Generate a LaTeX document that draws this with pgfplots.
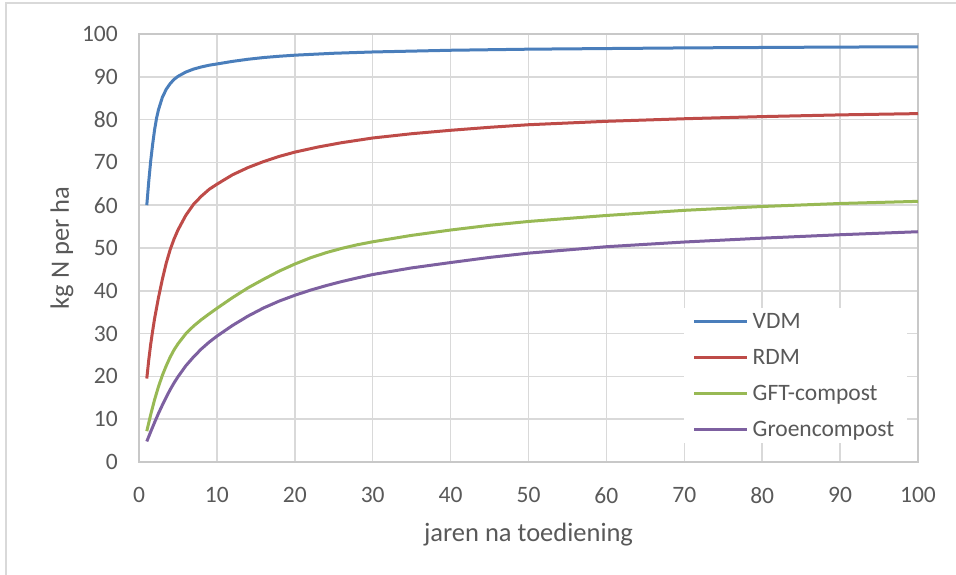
\documentclass[border=0pt]{standalone}
\usepackage{pgfplots}
\pgfplotsset{compat=1.18}
\usepackage{fontspec}
\setmainfont{Carlito}
\definecolor{txt}{HTML}{595959}
\definecolor{gridc}{HTML}{D9D9D9}
\definecolor{axc}{HTML}{C8C8C8}
\definecolor{cvdm}{HTML}{4A7EBB}
\definecolor{crdm}{HTML}{BE4B48}
\definecolor{cgft}{HTML}{98B954}
\definecolor{cgroen}{HTML}{7D60A0}
\begin{document}
\begin{tikzpicture}
\path[use as bounding box] (-139bp,-113bp) rectangle (817bp,462bp);
\draw[color=gridc, line width=1.2bp] (-133bp,-120bp) -- (-133bp,459bp) -- (830bp,459bp);
\begin{axis}[
  at={(0,0)}, anchor=south west,
  scale only axis, width=779bp, height=428bp,
  xmin=0, xmax=100, ymin=0, ymax=100,
  xtick={0,10,...,100}, ytick={0,10,...,100},
  grid=major,
  major grid style={color=gridc, line width=1.5bp},
  axis line style={color=axc, line width=1.5bp},
  major tick length=0pt,
  tick label style={font=\fontsize{23.5bp}{26bp}\selectfont, text=txt},
  /pgf/number format/assume math mode=true,
  yticklabel style={anchor=east, inner sep=0pt, xshift=-21bp},
  xticklabel style={anchor=north, inner sep=0pt, yshift=-25bp},
  xlabel={jaren na toediening},
  ylabel={kg N per ha},
  label style={font=\fontsize{26.5bp}{30bp}\selectfont, text=txt},
  xlabel style={at={(axis description cs:0.5,-0.1706)}, anchor=center},
  ylabel style={at={(axis description cs:-0.0988,0.5)}, anchor=center},
  legend style={at={(axis cs:69.9,36.0)}, anchor=north west, draw=none, fill=white,
    font=\fontsize{23.5bp}{26bp}\selectfont, text=txt,
    inner xsep=9bp, inner ysep=3bp, row sep=15.3bp,
    nodes={inner xsep=4bp}},
  legend cell align=left,
  legend image code/.code={\draw[#1, line width=3bp] (0bp,0bp) -- (53bp,0bp);},
  every axis plot/.append style={line width=3bp, line join=round},
]
\addplot[cvdm] coordinates {
(1,60) (1.25,65.5) (1.5,70.3) (1.75,74.2) (2,77.6) (2.25,80.3) (2.5,82.3) (3,85.2) (3.5,87.1) (4,88.4) (4.5,89.4) (5,90.1) (6,91.1) (7,91.8) (8,92.3) (9,92.7) (10,93.0) (12,93.6) (14,94.1) (16,94.5) (18,94.8) (20,95.05) (25,95.5) (30,95.8) (35,96.0) (40,96.2) (50,96.45) (60,96.6) (70,96.75) (80,96.85) (90,96.95) (100,97.0)};
\addlegendentry{VDM}
\addplot[crdm] coordinates {
(1,19.5) (1.25,23.8) (1.5,27.5) (1.75,30.6) (2,33.5) (2.5,38.4) (3,42.7) (3.5,46.5) (4,49.6) (4.5,52.1) (5,54.2) (6,57.6) (7,60.2) (8,62.1) (9,63.7) (10,64.9) (12,67.1) (14,68.8) (16,70.2) (18,71.4) (20,72.4) (23,73.6) (26,74.6) (30,75.7) (35,76.7) (40,77.5) (45,78.2) (50,78.8) (60,79.6) (70,80.2) (80,80.7) (90,81.1) (100,81.4)};
\addlegendentry{RDM}
\addplot[cgft] coordinates {
(1,7.2) (1.5,11.05) (2,14.55) (2.5,17.6) (3,20.25) (3.5,22.5) (4,24.5) (4.5,26.2) (5,27.6) (6,29.95) (7,31.75) (8,33.25) (9,34.6) (10,35.9) (12,38.4) (14,40.7) (16,42.7) (18,44.6) (20,46.25) (22,47.7) (24,48.9) (26,49.9) (28,50.75) (30,51.45) (35,52.95) (40,54.2) (45,55.3) (50,56.2) (60,57.6) (70,58.8) (80,59.7) (90,60.4) (100,60.9)};
\addlegendentry{GFT-compost}
\addplot[cgroen] coordinates {
(1,4.8) (1.5,7.06) (2,9.25) (2.5,11.35) (3,13.3) (3.5,15.16) (4,16.9) (4.5,18.48) (5,19.9) (6,22.45) (7,24.55) (8,26.4) (9,28.0) (10,29.4) (12,31.9) (14,34.1) (16,36.0) (18,37.6) (20,38.95) (22,40.15) (24,41.2) (26,42.15) (28,43.0) (30,43.8) (35,45.35) (40,46.6) (45,47.8) (50,48.8) (60,50.3) (70,51.4) (80,52.3) (90,53.1) (100,53.8)};
\addlegendentry{Groencompost}
\end{axis}
\end{tikzpicture}
\end{document}
